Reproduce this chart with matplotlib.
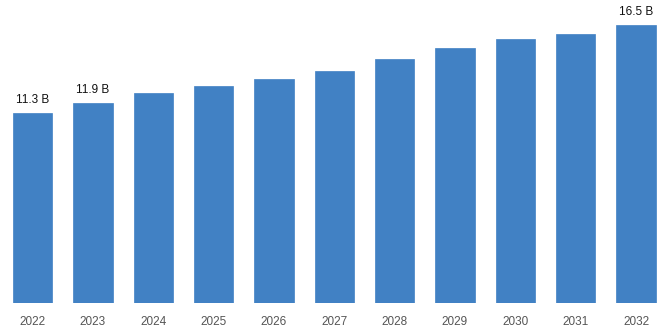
import matplotlib
matplotlib.use("Agg")
import matplotlib.pyplot as plt

years = ["2022", "2023", "2024", "2025", "2026", "2027", "2028", "2029", "2030", "2031", "2032"]
values = [11.3, 11.9, 12.48, 12.9, 13.28, 13.79, 14.48, 15.13, 15.68, 15.99, 16.5]
labels = {0: "11.3 B", 1: "11.9 B", 10: "16.5 B"}

plt.rcParams["font.family"] = ["Liberation Sans", "DejaVu Sans"]

fig = plt.figure(figsize=(6.68, 3.34), dpi=100)
ax = fig.add_axes([0.0, 0.0919, 1.0, 0.9081])

x = list(range(len(years)))
ax.bar(x, values, width=0.65, color="#4181c4", edgecolor="#4181c4", linewidth=0.5)

for i, text in labels.items():
    ax.annotate(text, (x[i], values[i]), xytext=(0, 5), textcoords="offset points",
                ha="center", va="bottom", fontsize=8.5, color="#111111")

ax.set_xlim(-0.54, 10.53)
ax.set_ylim(0, 17.98)
ax.set_xticks(x)
ax.set_xticklabels(years, fontsize=8.5, color="#555555")
ax.tick_params(axis="x", length=0, pad=9)
ax.set_yticks([])
for s in ax.spines.values():
    s.set_visible(False)

fig.savefig("out.png", dpi=100)
